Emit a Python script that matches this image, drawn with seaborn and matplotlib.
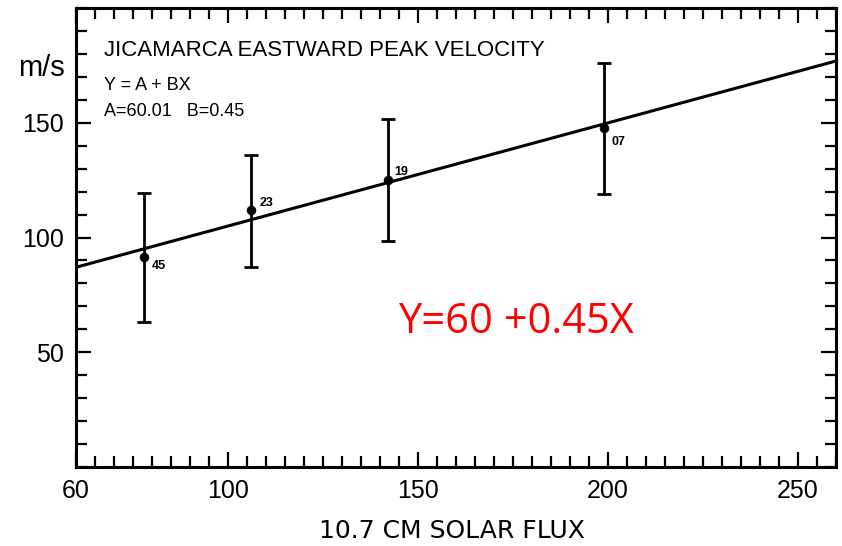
import numpy as np
import pandas as pd
import matplotlib
matplotlib.use("Agg")
import matplotlib.pyplot as plt
from matplotlib.ticker import MultipleLocator, FixedLocator
import seaborn as sns

# ---- data ----
flux = [78, 106, 142, 199]
velocity = [91.6, 112.0, 125.0, 147.8]
err_low = [63.3, 87.3, 98.6, 119.1]
err_high = [119.6, 136.0, 151.6, 176.1]
counts = ["45", "23", "19", "07"]
fit_A = 60.01
fit_B = 0.45
x_ticks = [60, 100, 150, 200, 250]
y_ticks = [50, 100, 150]

sns.set_theme(style="ticks")
plt.rcParams['font.family'] = ['Liberation Sans', 'DejaVu Sans']
plt.rcParams.update({"text.color": "black", "axes.labelcolor": "black",
                     "xtick.color": "black", "ytick.color": "black"})

fig = plt.figure(figsize=(8.42, 5.46), dpi=100)
ax = fig.add_axes([76/842, 1-466.7/546, (836-76)/842, (466.7-8.3)/546])

df = pd.DataFrame({"flux": flux, "v": velocity})

# fit line from stated coefficients, across the x range
fit_x = np.array([60, 260])
fit_df = pd.DataFrame({"x": fit_x, "y": fit_A + fit_B * fit_x})
sns.lineplot(data=fit_df, x="x", y="y", ax=ax, color="black", lw=2.2)

yerr = [np.array(velocity) - np.array(err_low), np.array(err_high) - np.array(velocity)]
ax.errorbar(flux, velocity, yerr=yerr, fmt="none", ecolor="black",
            elinewidth=2, capsize=5, capthick=2)
sns.scatterplot(data=df, x="flux", y="v", ax=ax, color="black", s=40,
                edgecolor="black", zorder=5)

offsets = [(5, -7), (6, 5), (5, 6), (5, -10)]
for xv, yv, c, off in zip(flux, velocity, counts, offsets):
    ax.annotate(c, (xv, yv), xytext=off, textcoords="offset points",
                fontsize=9, fontweight="bold", ha="left", va="center",
                color="black")

ax.set_xlim(60, 260)
ax.set_ylim(0, 200)
ax.xaxis.set_major_locator(FixedLocator(x_ticks))
ax.yaxis.set_major_locator(FixedLocator(y_ticks))
ax.xaxis.set_minor_locator(MultipleLocator(5))
ax.yaxis.set_minor_locator(MultipleLocator(10))
ax.tick_params(which="both", direction="in", top=True, right=True,
               color="black", width=1.6, labelcolor="black")
ax.tick_params(which="major", length=11, labelsize=18, pad=9)
ax.tick_params(which="minor", length=8)
for s in ax.spines.values():
    s.set_linewidth(2.2)
    s.set_color("black")
ax.set_xlabel("10.7 CM SOLAR FLUX", fontsize=18, family="DejaVu Sans",
              color="black")
ax.xaxis.set_label_coords((452-76)/760, -(531-466.7)/458.4)
ax.xaxis.label.set_va("center")
ax.set_ylabel("")

fig.text(18/842, 1-68/546, "m/s", fontsize=21, ha="left", va="center")
fig.text(104/842, 1-51/546, "JICAMARCA EASTWARD PEAK VELOCITY",
         fontsize=16, ha="left", va="center")
fig.text(104/842, 1-85/546, "Y = A + BX", fontsize=13, ha="left", va="center")
fig.text(104/842, 1-112/546, "A=60.01   B=0.45", fontsize=13, ha="left", va="center")
fig.text(398/842, 1-322/546, "Y=60 +0.45X", fontsize=30, color="red",
         family="Open Sans", ha="left", va="center")

fig.savefig("out.png", dpi=100)
